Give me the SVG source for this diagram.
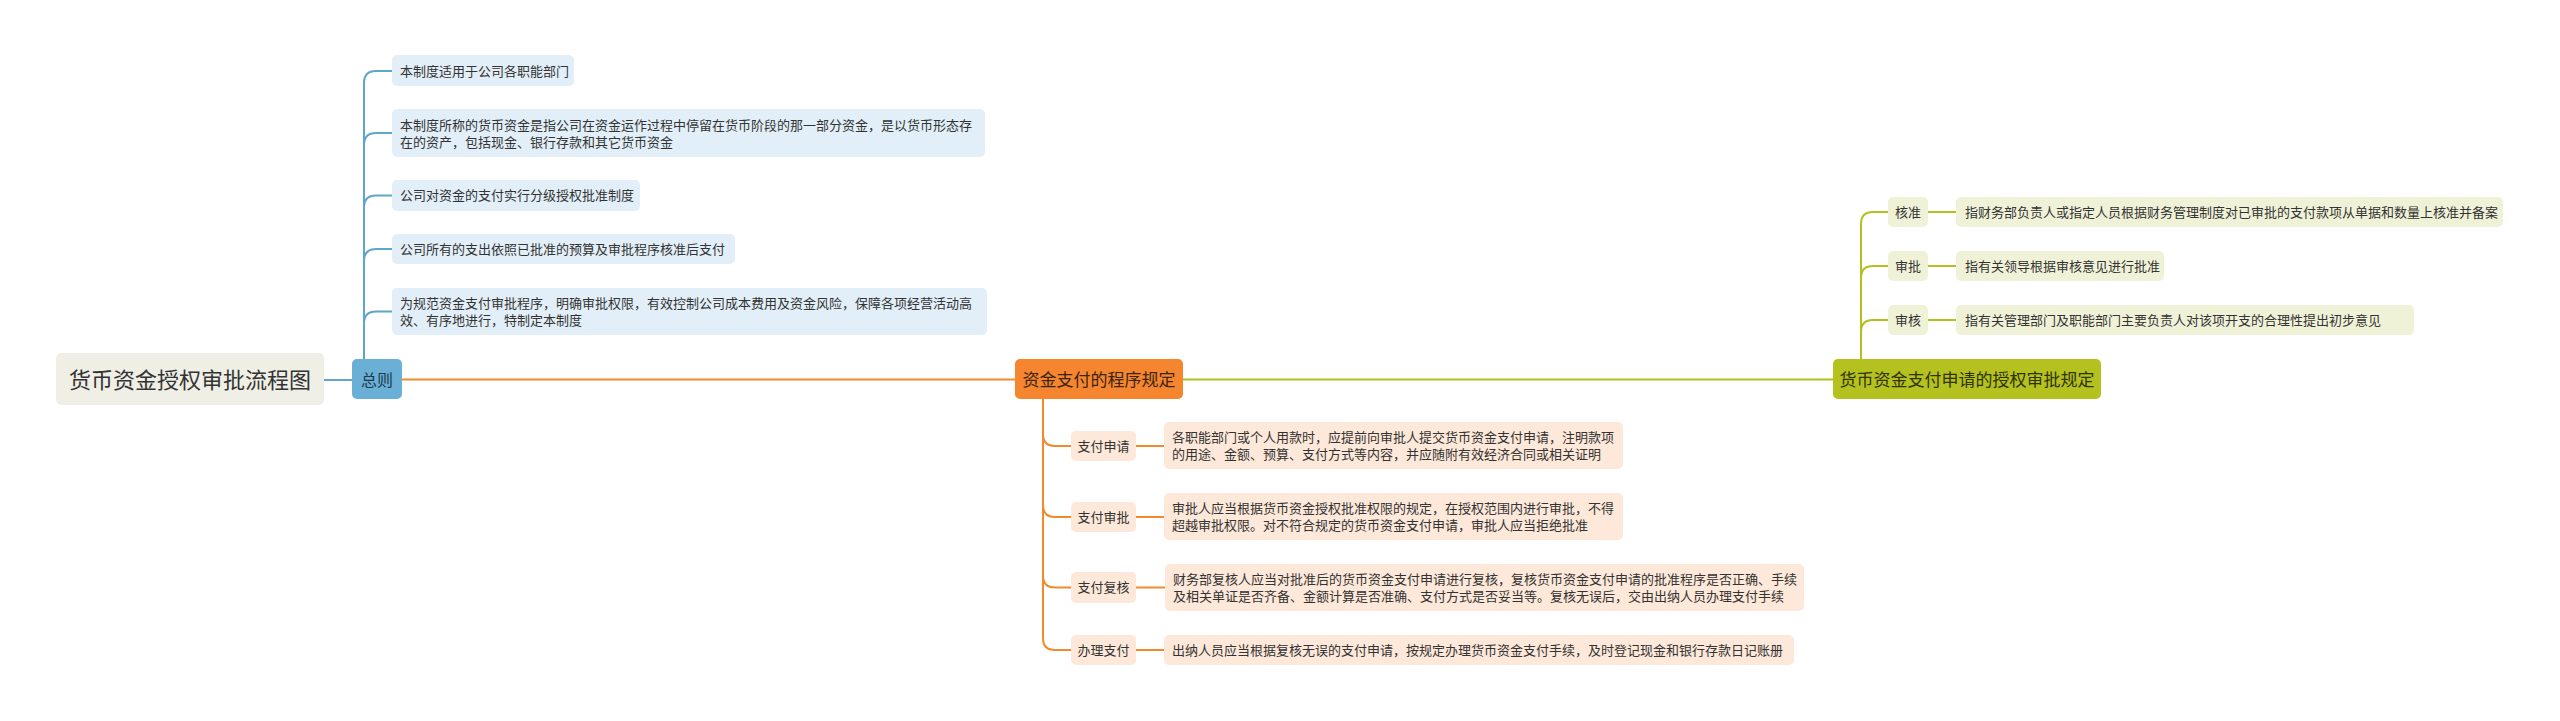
<svg xmlns="http://www.w3.org/2000/svg" width="2560" height="721" viewBox="0 0 2560 721">
<style>
text{font-family:"Noto Sans CJK SC","Noto Sans",sans-serif;fill:#333;}
.s{font-size:13px;}
.m{font-size:17px;}
.c{text-anchor:middle;}
.lb{fill:#e2eff8;}
.lo{fill:#fde8d9;}
.lg{fill:#f0f2d8;}
.cb{fill:none;stroke:#5fa5cc;stroke-width:2;}
.co{fill:none;stroke:#f08a2c;stroke-width:2;}
.cg{fill:none;stroke:#b3c11e;stroke-width:2;}
</style>
<rect width="2560" height="721" fill="#ffffff"/>
<g id="connectors">
<path class="cb" d="M324,380 H352"/>
<path class="cb" d="M364,359 V83 Q364,71 376,71 H392"/>
<path class="cb" d="M364,359 V145 Q364,133 376,133 H392"/>
<path class="cb" d="M364,359 V207.5 Q364,195.5 376,195.5 H392"/>
<path class="cb" d="M364,359 V261 Q364,249 376,249 H392"/>
<path class="cb" d="M364,359 V323.5 Q364,311.5 376,311.5 H392"/>
<path class="co" d="M402,379.5 H1015" stroke-width="2.5"/>
<path class="cg" d="M1183,379.5 H1833" stroke-width="2.5"/>
<path class="co" d="M1043,399 V434 Q1043,446 1055,446 H1071"/>
<path class="co" d="M1043,399 V505 Q1043,517 1055,517 H1071"/>
<path class="co" d="M1043,399 V575.5 Q1043,587.5 1055,587.5 H1071"/>
<path class="co" d="M1043,399 V638 Q1043,650 1055,650 H1071"/>
<path class="co" d="M1136,446 H1164"/>
<path class="co" d="M1136,517 H1164"/>
<path class="co" d="M1136,587.5 H1165"/>
<path class="co" d="M1136,650 H1164"/>
<path class="cg" d="M1861,359 V224 Q1861,212 1873,212 H1888"/>
<path class="cg" d="M1861,359 V278 Q1861,266 1873,266 H1888"/>
<path class="cg" d="M1861,359 V332 Q1861,320 1873,320 H1888"/>
<path class="cg" d="M1928,212 H1956"/>
<path class="cg" d="M1928,266 H1956"/>
<path class="cg" d="M1928,320 H1956"/>
</g>
<g id="root">
<rect x="56" y="353" width="268" height="52" rx="5" fill="#efefe6"/>
<text x="190" y="388" class="c" font-size="22">货币资金授权审批流程图</text>
</g>
<g id="zongze">
<rect x="352" y="359" width="50" height="40" rx="5" fill="#6aafd5"/>
<text x="377" y="385.5" class="c" font-size="16" style="fill:#1d3a4d">总则</text>
</g>
<g id="zz1">
<rect class="lb" x="392" y="55" width="182" height="31" rx="5"/>
<text class="s" x="400" y="75.5">本制度适用于公司各职能部门</text>
</g>
<g id="zz2">
<rect class="lb" x="392" y="109" width="593" height="48" rx="5"/>
<text class="s" x="400" y="129.5">本制度所称的货币资金是指公司在资金运作过程中停留在货币阶段的那一部分资金，是以货币形态存</text>
<text class="s" x="400" y="146.5">在的资产，包括现金、银行存款和其它货币资金</text>
</g>
<g id="zz3">
<rect class="lb" x="392" y="180" width="248" height="31" rx="5"/>
<text class="s" x="400" y="200">公司对资金的支付实行分级授权批准制度</text>
</g>
<g id="zz4">
<rect class="lb" x="392" y="234" width="343" height="30" rx="5"/>
<text class="s" x="400" y="253.5">公司所有的支出依照已批准的预算及审批程序核准后支付</text>
</g>
<g id="zz5">
<rect class="lb" x="392" y="288" width="595" height="47" rx="5"/>
<text class="s" x="400" y="307.5">为规范资金支付审批程序，明确审批权限，有效控制公司成本费用及资金风险，保障各项经营活动高</text>
<text class="s" x="400" y="324.5">效、有序地进行，特制定本制度</text>
</g>
<g id="procedure">
<rect x="1015" y="359" width="168" height="40" rx="5" fill="#f5862f"/>
<text x="1099" y="385.5" class="c m" style="fill:#3b2410">资金支付的程序规定</text>
</g>
<g id="p1">
<rect class="lo" x="1071" y="431" width="65" height="30" rx="5"/>
<text class="s c" x="1103.5" y="450.5">支付申请</text>
<rect class="lo" x="1164" y="422" width="459" height="47" rx="5"/>
<text class="s" x="1172" y="442">各职能部门或个人用款时，应提前向审批人提交货币资金支付申请，注明款项</text>
<text class="s" x="1172" y="459">的用途、金额、预算、支付方式等内容，并应随附有效经济合同或相关证明</text>
</g>
<g id="p2">
<rect class="lo" x="1071" y="502" width="65" height="30" rx="5"/>
<text class="s c" x="1103.5" y="521.5">支付审批</text>
<rect class="lo" x="1164" y="493" width="459" height="47" rx="5"/>
<text class="s" x="1172" y="513">审批人应当根据货币资金授权批准权限的规定，在授权范围内进行审批，不得</text>
<text class="s" x="1172" y="530">超越审批权限。对不符合规定的货币资金支付申请，审批人应当拒绝批准</text>
</g>
<g id="p3">
<rect class="lo" x="1071" y="572" width="65" height="31" rx="5"/>
<text class="s c" x="1103.5" y="592">支付复核</text>
<rect class="lo" x="1165" y="564" width="639" height="47" rx="5"/>
<text class="s" x="1173" y="583.5">财务部复核人应当对批准后的货币资金支付申请进行复核，复核货币资金支付申请的批准程序是否正确、手续</text>
<text class="s" x="1173" y="600.5">及相关单证是否齐备、金额计算是否准确、支付方式是否妥当等。复核无误后，交由出纳人员办理支付手续</text>
</g>
<g id="p4">
<rect class="lo" x="1071" y="635" width="65" height="30" rx="5"/>
<text class="s c" x="1103.5" y="654.5">办理支付</text>
<rect class="lo" x="1164" y="635" width="630" height="30" rx="5"/>
<text class="s" x="1172" y="654.5">出纳人员应当根据复核无误的支付申请，按规定办理货币资金支付手续，及时登记现金和银行存款日记账册</text>
</g>
<g id="authorization">
<rect x="1833" y="359" width="268" height="40" rx="5" fill="#b5c11f"/>
<text x="1967" y="385.5" class="c m" style="fill:#2e3300">货币资金支付申请的授权审批规定</text>
</g>
<g id="a1">
<rect class="lg" x="1888" y="197" width="40" height="30" rx="5"/>
<text class="s c" x="1908" y="216.5">核准</text>
<rect class="lg" x="1956" y="197" width="547" height="30" rx="5"/>
<text class="s" x="1965" y="216.5">指财务部负责人或指定人员根据财务管理制度对已审批的支付款项从单据和数量上核准并备案</text>
</g>
<g id="a2">
<rect class="lg" x="1888" y="251" width="40" height="30" rx="5"/>
<text class="s c" x="1908" y="270.5">审批</text>
<rect class="lg" x="1956" y="251" width="208" height="30" rx="5"/>
<text class="s" x="1965" y="270.5">指有关领导根据审核意见进行批准</text>
</g>
<g id="a3">
<rect class="lg" x="1888" y="305" width="40" height="30" rx="5"/>
<text class="s c" x="1908" y="324.5">审核</text>
<rect class="lg" x="1956" y="305" width="458" height="30" rx="5"/>
<text class="s" x="1965" y="324.5">指有关管理部门及职能部门主要负责人对该项开支的合理性提出初步意见</text>
</g>
</svg>
